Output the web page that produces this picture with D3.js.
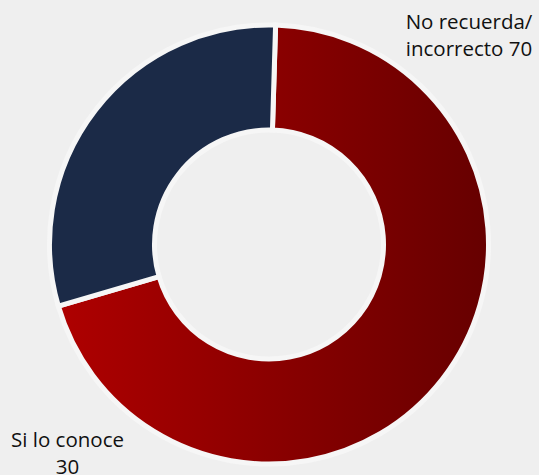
<!DOCTYPE html>
<html>
<head>
<meta charset="utf-8">
<script src="https://cdn.jsdelivr.net/npm/d3@7"></script>
<style>
  html, body { margin: 0; padding: 0; background: #efefef; }
  svg { display: block; }
</style>
</head>
<body>
<svg id="chart"></svg>
<script>
  var categories = ['No recuerda/ incorrecto', 'Si lo conoce']
  var values = [70, 30]
  var labelLines = [['No recuerda/', 'incorrecto 70'], ['Si lo conoce', '30']]

  var width = 539, height = 475
  var cx = 269, cy = 244.5
  var outerR = 219.5, innerR = 114.5

  var svg = d3.select('#chart')
    .attr('width', width)
    .attr('height', height)

  // gradient coords are in the translated group's space
  var defs = svg.append('defs')
  var grad = defs.append('linearGradient')
    .attr('id', 'redGrad')
    .attr('gradientUnits', 'userSpaceOnUse')
    .attr('x1', -outerR).attr('y1', 0)
    .attr('x2', outerR).attr('y2', 0)
  grad.append('stop').attr('offset', '0%').attr('stop-color', '#b00000')
  grad.append('stop').attr('offset', '100%').attr('stop-color', '#660000')

  var colors = ['url(#redGrad)', '#1b2a47']

  var pie = d3.pie()
    .sort(null)
    .startAngle(0.03)
    .endAngle(0.03 + Math.PI * 2)

  var arc = d3.arc()
    .innerRadius(innerR)
    .outerRadius(outerR)

  var g = svg.append('g')
    .attr('transform', 'translate(' + cx + ',' + cy + ')')

  g.selectAll('path')
    .data(pie(values))
    .enter()
    .append('path')
    .attr('d', arc)
    .style('fill', function(d, i){ return colors[i] })
    .style('stroke', '#f6f6f6')
    .style('stroke-width', 5)
    .style('stroke-linejoin', 'miter')

  // labels
  var labelPos = [{x: 469, y: 29}, {x: 67.5, y: 447}]

  var labels = svg.selectAll('text.lbl')
    .data(categories)
    .enter()
    .append('text')
    .attr('class', 'lbl')
    .attr('x', function(d, i){ return labelPos[i].x })
    .attr('y', function(d, i){ return labelPos[i].y })
    .style('text-anchor', 'middle')
    .style('font-family', '"Open Sans", sans-serif')
    .style('font-size', '20.5px')
    .style('fill', '#111')

  labels.each(function(d, i){
    var t = d3.select(this)
    labelLines[i].forEach(function(line, j){
      t.append('tspan')
        .attr('x', labelPos[i].x)
        .attr('dy', j === 0 ? 0 : 27)
        .text(line)
    })
  })
</script>
</body>
</html>
